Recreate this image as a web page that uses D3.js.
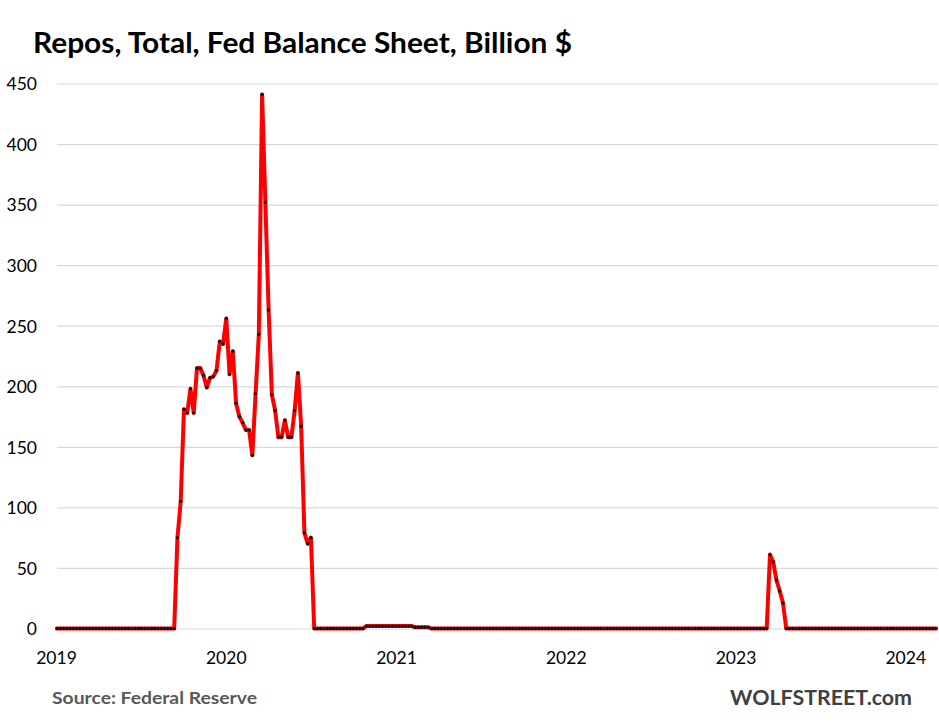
<!DOCTYPE html>
<html><head><meta charset="utf-8">
<script src="https://cdn.jsdelivr.net/npm/d3@7"></script>
<style>body{margin:0;background:#fff} svg{display:block}</style>
</head><body>
<svg id="chart" width="939" height="724"></svg>
<script>
const titleText = "Repos, Total, Fed Balance Sheet, Billion $";
const sourceText = "Source: Federal Reserve";
const brandText = "WOLFSTREET.com";
const firstWeek = "2019-01-02";
const yTicks = [0, 50, 100, 150, 200, 250, 300, 350, 400, 450];
const yearLabels = ["2019", "2020", "2021", "2022", "2023", "2024"];
// weekly Wednesday levels, billion $
const repoValues = [
  0,0,0,0,0,0,0,0,0,0,
  0,0,0,0,0,0,0,0,0,0,
  0,0,0,0,0,0,0,0,0,0,
  0,0,0,0,0,0,0,
  75,105,181,178,198,178,215,215,209,199,
  207,208,213,237,235,256,210,229,186,175,
  170,164,164,143,194,243,441,352,263,193,
  180,158,158,172,158,158,180,211,167,79,
  70,75,
  0,0,0,0,0,0,0,0,0,0,0,0,0,0,0,0,
  2,2,2,2,2,2,2,2,2,2,2,2,2,2,2,
  1,1,1,1,1,
  0,0,0,0,0,0,0,0,0,0,
  0,0,0,0,0,0,0,0,0,0,
  0,0,0,0,0,0,0,0,0,0,
  0,0,0,0,0,0,0,0,0,0,
  0,0,0,0,0,0,0,0,0,0,
  0,0,0,0,0,0,0,0,0,0,
  0,0,0,0,0,0,0,0,0,0,
  0,0,0,0,0,0,0,0,0,0,
  0,0,0,0,0,0,0,0,0,0,
  0,0,0,0,0,0,0,0,0,0,
  0,0,0,0,
  61,55,40,31,21,
  0,0,0,0,0,0,0,0,0,0,
  0,0,0,0,0,0,0,0,0,0,
  0,0,0,0,0,0,0,0,0,0,
  0,0,0,0,0,0,0,0,0,0,
  0,0,0,0,0,0,0
];

const svg = d3.select("#chart");
const start = d3.utcParse("%Y-%m-%d")(firstWeek);
const data = repoValues.map((v, i) => ({date: d3.utcDay.offset(start, 7 * i), value: v}));

const left = 57, right = 936;
const x = d3.scaleUtc().domain([start, data[data.length - 1].date]).range([left, right]);
const y = d3.scaleLinear().domain([0, 450]).range([628.5, 83.5]);

const font = "Lato, 'Open Sans', 'Liberation Sans', sans-serif";

// gridlines + y labels
const yAxis = svg.append("g").attr("transform", `translate(${left},0)`)
  .call(d3.axisLeft(y).tickValues(yTicks).tickSize(-(right - left + 2)).tickPadding(20).tickFormat(d3.format("d")));
yAxis.select(".domain").remove();
yAxis.selectAll(".tick line").attr("stroke", "#d9d9d9").attr("stroke-width", 1.2);
yAxis.selectAll(".tick text").attr("font-family", font).attr("font-size", 17.5).attr("fill", "#000").attr("dy", "0.36em");

// x labels at each year start
const years = yearLabels.map(s => d3.utcParse("%Y")(s));
svg.append("g").selectAll("text").data(years).join("text")
  .attr("x", d => x(d)).attr("y", 663.5)
  .attr("text-anchor", "middle")
  .attr("font-family", font).attr("font-size", 17.5).attr("fill", "#000")
  .text((d, i) => yearLabels[i]);

// line
const line = d3.line().x(d => x(d.date)).y(d => y(d.value));
svg.append("path").datum(data).attr("d", line)
  .attr("fill", "none").attr("stroke", "#ff0000").attr("stroke-width", 4)
  .attr("stroke-linejoin", "round").attr("stroke-linecap", "round");

// markers
svg.append("g").selectAll("circle").data(data).join("circle")
  .attr("cx", d => x(d.date)).attr("cy", d => y(d.value)).attr("r", 1.7)
  .attr("fill", "#111");

// title
svg.append("text").attr("x", 33).attr("y", 53)
  .attr("font-family", font).attr("font-weight", "bold").attr("font-size", 29)
  .attr("fill", "#000").attr("textLength", 539).attr("lengthAdjust", "spacingAndGlyphs")
  .text(titleText);

// footer
svg.append("text").attr("x", 52).attr("y", 704)
  .attr("font-family", font).attr("font-weight", "bold").attr("font-size", 17)
  .attr("fill", "#595959").attr("textLength", 205).attr("lengthAdjust", "spacingAndGlyphs")
  .text(sourceText);
svg.append("text").attr("x", 730).attr("y", 705)
  .attr("font-family", font).attr("font-weight", "bold").attr("font-size", 20.5)
  .attr("fill", "#404040").attr("textLength", 182).attr("lengthAdjust", "spacingAndGlyphs")
  .text(brandText);
</script>
</body></html>
